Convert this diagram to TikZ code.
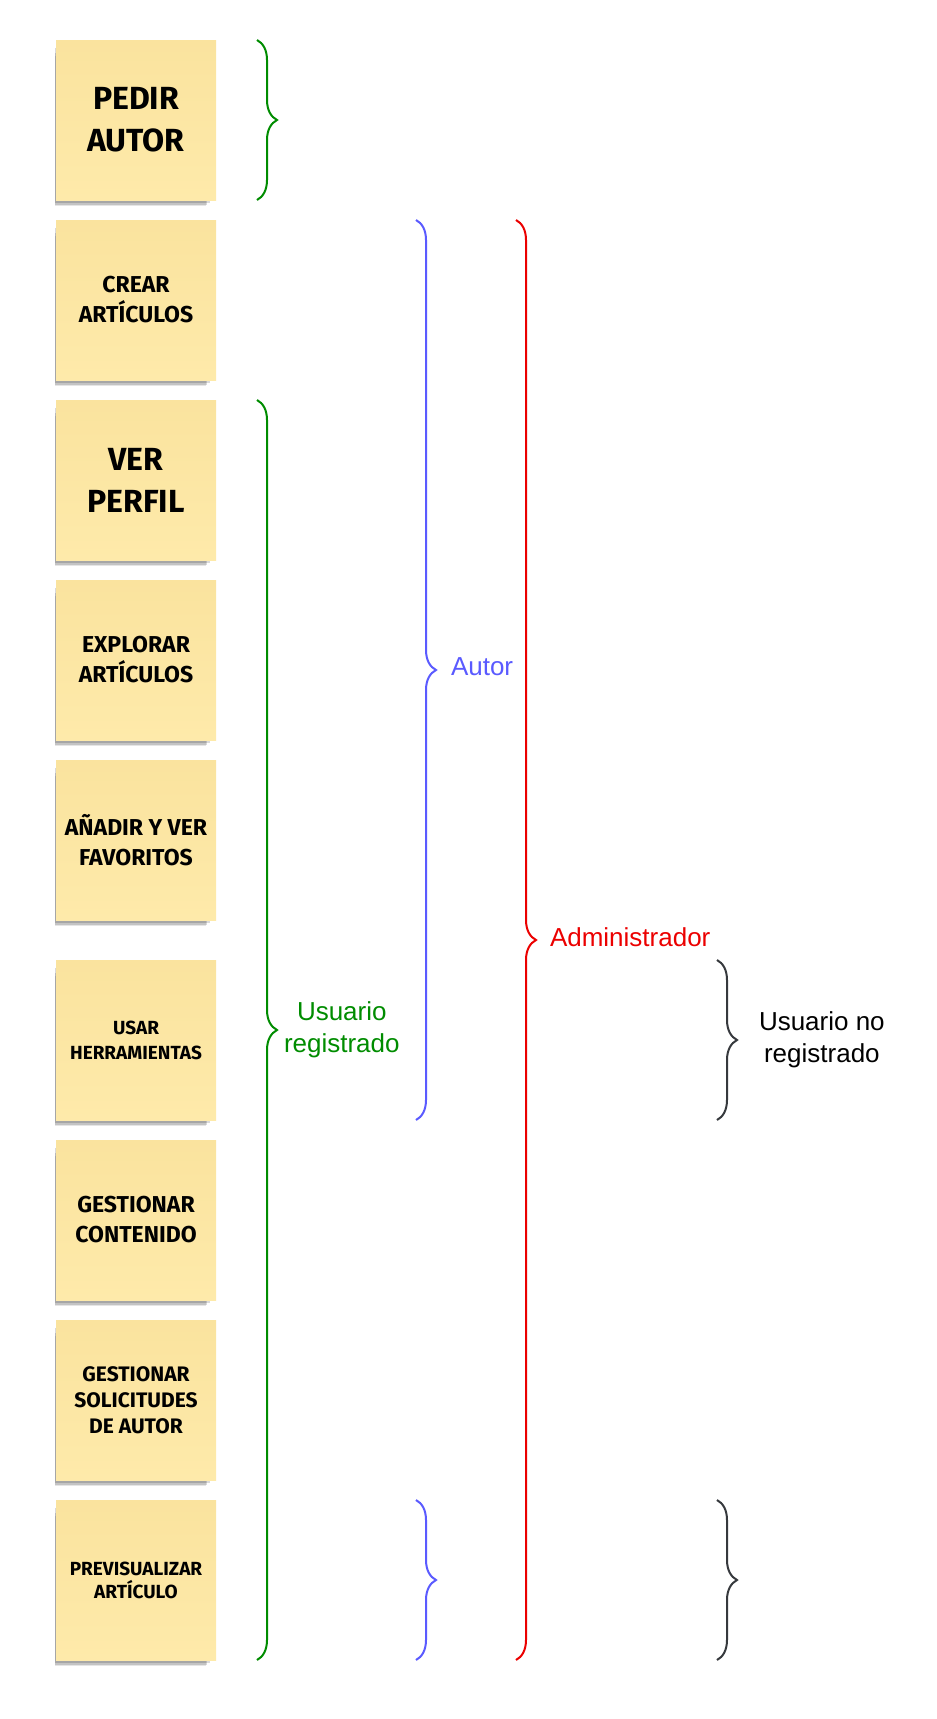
\documentclass[tikz,border=0pt]{standalone}
\usepackage{fontspec}
\setmainfont{Liberation Sans}
\newfontfamily\notefont{Fira Sans}
\usetikzlibrary{positioning,shadows,decorations.pathreplacing}
\definecolor{notetop}{RGB}{250,227,158}
\definecolor{notebot}{RGB}{254,234,170}
\definecolor{usrgreen}{RGB}{0,140,0}
\definecolor{autblue}{RGB}{90,90,255}
\definecolor{admred}{RGB}{235,0,0}
\definecolor{anongray}{RGB}{54,57,61}

\begin{document}
\begin{tikzpicture}[x=0.5pt,y=-0.5pt,
    note/.style={minimum width=80pt,minimum height=80pt,inner sep=0pt,outer sep=0pt,
      top color=notetop,bottom color=notebot,align=center,
      drop shadow={shadow scale=0.94,shadow xshift=-3pt,shadow yshift=-6pt,opacity=0.1,fill=black},
      drop shadow={shadow scale=0.95,shadow xshift=-2.5pt,shadow yshift=-4.5pt,opacity=0.15,fill=black},
      drop shadow={shadow scale=0.97,shadow xshift=-2pt,shadow yshift=-3pt,opacity=0.15,fill=black}},
    txtxl/.style={font=\notefont\bfseries\fontsize{16}{21}\selectfont},
    txtm/.style={font=\notefont\bfseries\fontsize{11.5}{15}\selectfont},
    txts/.style={font=\notefont\bfseries\fontsize{10.5}{13}\selectfont},
    txtxs/.style={font=\notefont\bfseries\fontsize{9.5}{12.5}\selectfont},
    txtxxs/.style={font=\notefont\bfseries\fontsize{9.5}{11.5}\selectfont},
    brc/.style={decorate,decoration={brace,amplitude=10pt},line width=1pt},
    lbl/.style={font=\fontsize{13}{16}\selectfont,align=center,inner sep=0pt}
  ]
  \useasboundingbox (0,0) rectangle (937,1719);

  % NOTES
  \node[note,txtxl] (pedir) at (136,120) {PEDIR\\AUTOR};
  \node[note,txtm,below=10pt of pedir] (crear) {CREAR\\ARTÍCULOS};
  \node[note,txtxl,below=10pt of crear] (perfil) {VER\\PERFIL};
  \node[note,txtm,below=10pt of perfil] (explorar) {EXPLORAR\\ARTÍCULOS};
  \node[note,txtm,below=10pt of explorar] (favoritos) {AÑADIR Y VER\\FAVORITOS};
  \node[note,txtxs,below=20pt of favoritos] (herram) {USAR\\HERRAMIENTAS};
  \node[note,txtm,below=10pt of herram] (contenido) {GESTIONAR\\CONTENIDO};
  \node[note,txts,below=10pt of contenido] (solicitudes) {GESTIONAR\\SOLICITUDES\\DE AUTOR};
  \node[note,txtxxs,below=10pt of solicitudes] (previs) {PREVISUALIZAR\\ARTÍCULO};

  % BRACE COLUMNS
  \coordinate (colG) at (257,0);
  \coordinate (colB) at (416,0);
  \coordinate (colR) at (516,0);
  \coordinate (colK) at (717,0);

  % usuario registrado
  \draw[brc,usrgreen] (pedir.north -| colG) -- (pedir.south -| colG);
  \draw[brc,usrgreen] (perfil.north -| colG) -- (previs.south -| colG)
    node[midway,right=13pt,lbl] (usr) {Usuario\\registrado};

  % autor
  \draw[brc,autblue] (crear.north -| colB) -- (herram.south -| colB)
    node[midway,right=17pt,lbl,yshift=1.5pt] (aut) {Autor};
  \draw[brc,autblue] (previs.north -| colB) -- (previs.south -| colB);

  % administrador
  \draw[brc,admred] (crear.north -| colR) -- (previs.south -| colR)
    node[midway,right=16.5pt,lbl,yshift=1.5pt] (adm) {Administrador};

  % usuario no registrado
  \draw[brc,anongray] (herram.north -| colK) -- (herram.south -| colK)
    node[midway,right=20.5pt,lbl,text=black] (anon) {Usuario no\\registrado};
  \draw[brc,anongray] (previs.north -| colK) -- (previs.south -| colK);
\end{tikzpicture}
\end{document}
